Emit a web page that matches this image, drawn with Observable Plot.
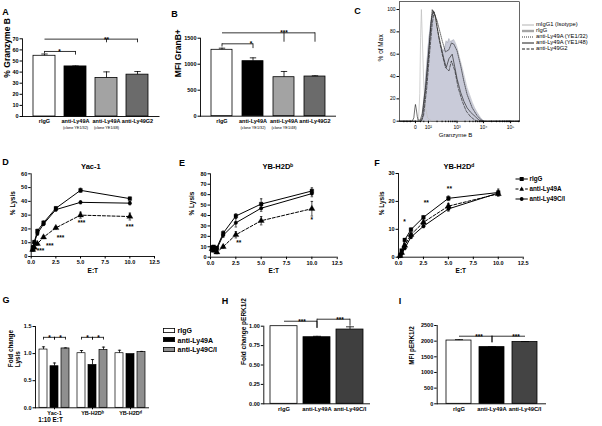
<!DOCTYPE html>
<html><head><meta charset="utf-8">
<script src="https://cdn.jsdelivr.net/npm/d3@7"></script>
<script src="https://cdn.jsdelivr.net/npm/@observablehq/plot@0.6"></script>
<style>
html,body{margin:0;padding:0;background:#fff;}
#fig{position:relative;width:602px;height:426px;overflow:hidden;background:#fff;font-family:'Liberation Sans',Arial,Helvetica,sans-serif;color:#000;}
.t{position:absolute;white-space:nowrap;line-height:1;}
</style></head><body><div id="fig"></div>
<script>
// ================= DATA =================
const ET = [0.15625, 0.3125, 0.625, 1.25, 2.5, 5, 10];

// A: % Granzyme B
const aCategories = ["rIgG", "anti-Ly49A (clone YE1/32)", "anti-Ly49A (clone YE1/48)", "anti-Ly49G2"];
const aTickNames = ["rIgG", "anti-Ly49A", "anti-Ly49A", "anti-Ly49G2"];
const aCloneNotes = ["", "(clone YE1/32)", "(clone YE1/48)", ""];
const aMeans = [54.7, 45.1, 34.7, 37.7];
const aErrors = [1.6, 0.4, 5.5, 2.8];
const aTicks = [0, 10, 20, 30, 40, 50, 60, 70];
const aBrackets = [
  {from: 0, to: 1, level: 58.6, drops: [[0, 56.8], [1, 55.3]], label: "*", labelAt: 0},
  {from: 0, to: 3, level: 69.7, drops: [[2, 66.4], [3, 66.4]], label: "**", labelAt: 2}
];

// B: MFI GranB+
const bMeans = [1277, 1058, 750, 763];
const bErrors = [31, 64, 110, 14];
const bTicks = [0, 500, 1000, 1500];
const bBrackets = [
  {from: 0, to: 1, level: 1392, drops: [[0, 1330], [1, 1300]], label: "*", labelAt: 1},
  {from: 0, to: 3, level: 1603, drops: [[2, 1423], [3, 1423]], label: "***", labelAt: 2}
];

// C: histogram (x = display position in decades of the logicle axis, y = % of max)
const cAxisPos = [0, 0.48, 1.54, 2.52, 3.52];
const cAxisLabels = ["0", "10²", "10³", "10⁴", "10⁵"];
const cIsoU = [-0.59, 0.08, 0.12, 0.16, 0.19, 0.22, 0.26, 0.31, 0.37, 0.45, 0.6, 3.85];
const cIsoPct = [0, 0, 4, 25, 75, 100, 70, 32, 12, 3, 0, 0];
const cRIgGU = [0.22, 0.25, 0.31, 0.37, 0.43, 0.49, 0.56, 0.64, 0.72, 0.80, 0.87, 0.93, 1.00, 1.05, 1.10, 1.14, 1.19, 1.24, 1.30, 1.36, 1.42, 1.48, 1.54, 1.63, 1.73, 1.82, 1.91, 2.00, 2.10, 2.19, 2.28, 2.36, 2.41, 2.49, 2.56];
const cRIgGPct = [0, 1, 18, 36, 54, 72, 87, 97, 90, 82, 74, 68, 64, 63, 67, 72, 70, 74, 71, 72, 73, 70, 66, 57, 48, 39, 30, 24, 17, 12, 8, 5, 3, 1, 0];
const cYE132U = [-0.59, 0.2, 0.27, 0.40, 0.49, 0.57, 0.62, 0.70, 0.80, 0.99, 1.11, 1.24, 1.33, 1.42, 1.54, 1.67, 1.79, 1.91, 2.10, 2.28, 2.44, 2.52, 3.85];
const cYE132Pct = [0, 0, 5, 33, 60, 87, 100, 96, 90, 72, 62, 64, 70, 69, 63, 50, 36, 24, 12, 5, 1, 0, 0];
const cYE148U = [-0.59, -0.12, -0.06, -0.02, 0.0, 0.03, 0.07, 0.10, 0.18, 0.25, 0.37, 0.49, 0.59, 0.65, 0.72, 0.80, 0.93, 1.05, 1.14, 1.24, 1.36, 1.46, 1.54, 1.67, 1.79, 1.91, 2.04, 2.22, 2.35, 2.47, 3.85];
const cYE148Pct = [0, 0, 3, 12, 15, 11, 4, 1, 1, 7, 30, 63, 90, 99, 95, 84, 69, 56, 48, 56, 60, 48, 38, 26, 18, 12, 8, 4, 1, 0, 0];
const cG2U = [-0.59, 0.22, 0.30, 0.42, 0.52, 0.62, 0.69, 0.76, 0.86, 0.99, 1.11, 1.24, 1.33, 1.46, 1.58, 1.73, 1.88, 2.04, 2.20, 2.30, 3.85];
const cG2Pct = [0, 0, 5, 30, 60, 87, 98, 92, 75, 60, 48, 45, 54, 45, 30, 18, 9, 4, 1, 0, 0];
const cLegend = ["mIgG1 (Isotype)", "rIgG", "anti-Ly49A (YE1/32)", "anti-Ly49A (YE1/48)", "anti-Ly49G2"];

// D/E/F: % lysis vs E:T
const lineSeries = ["rIgG", "anti-Ly49A", "anti-Ly49C/I"];
const dRIgG = [5, 10.5, 18.5, 24.5, 35, 48, 42];
const dRIgGErr = [0.8, 1, 1.2, 1.2, 1, 1.5, 1];
const dLy49A = [5, 6.5, 9.2, 14, 20.8, 30, 29];
const dLy49AErr = [0.8, 0.8, 1, 1, 1, 2.2, 2.5];
const dLy49CI = [7, 10, 16.5, 23.5, 34, 39.3, 38.7];
const dLy49CIErr = [0.8, 1, 1, 1, 1, 1, 1.2];
const dStarX = [0.94, 1.88, 2.97, 5.1, 9.98];
const dStarY = [4.8, 8.5, 14.7, 25.5, 22.4];
const dStarText = ["***", "***", "***", "***", "***"];

const eRIgG = [9.5, 10, 9, 23, 39.5, 51, 63.5];
const eRIgGErr = [1, 1, 1, 2, 2, 5, 3];
const eLy49A = [8, 6.5, 4.8, 10, 21.5, 35, 46.5];
const eLy49AErr = [1, 1.5, 1.5, 1.5, 3, 4, 7];
const eLy49CI = [8.5, 9, 8, 21, 33, 47, 61];
const eLy49CIErr = [1, 1, 1, 2, 4, 3, 3];
const eStarX = [2.79, 10.0];
const eStarY = [15.4, 36.9];
const eStarText = ["**", "*"];

const fRIgG = [0.6, 2.4, 6.2, 9.9, 14.3, 21.1, 23.2];
const fRIgGErr = [0.3, 0.3, 0.5, 0.5, 0.5, 0.8, 1.2];
const fLy49A = [0.5, 1.6, 4.2, 8.1, 12.5, 18.3, 22.7];
const fLy49AErr = [0.3, 0.3, 0.5, 0.5, 0.8, 1, 0.8];
const fLy49CI = [0.4, 1.2, 3.2, 7.2, 11.1, 17.3, 23.0];
const fLy49CIErr = [0.3, 0.3, 0.5, 0.5, 0.5, 0.8, 0.8];
const fStarX = [0.6, 2.78, 5.1];
const fStarY = [13.2, 20.1, 25];
const fStarText = ["*", "**", "**"];

// G: fold change lysis at 1:10
const gGroups = ["Yac-1", "YB-H2Dᵇ", "YB-H2Dᵈ"];
const gSeries = ["rIgG", "anti-Ly49A", "anti-Ly49C/I"];
const gRIgG = [1.075, 1.007, 1.007];
const gRIgGErr = [0.05, 0.05, 0.055];
const gLy49A = [0.767, 0.79, 0.99];
const gLy49AErr = [0.06, 0.1, 0];
const gLy49CI = [1.095, 1.065, 1.03];
const gLy49CIErr = [0.01, 0.055, 0.01];
const gBrackets = [
  {group: 0, from: 0, to: 1, level: 1.30, drop: 1.25, label: "*"},
  {group: 0, from: 1, to: 2, level: 1.30, drop: 1.25, label: "*"},
  {group: 1, from: 0, to: 1, level: 1.30, drop: 1.25, label: "*"},
  {group: 1, from: 1, to: 2, level: 1.30, drop: 1.25, label: "*"}
];

// H: fold change pERK1/2
const hCategories = ["rIgG", "anti-Ly49A", "anti-Ly49C/I"];
const hMeans = [1.0, 0.858, 0.957];
const hErrors = [0, 0.012, 0.035];
const hTicks = [0, 0.25, 0.5, 0.75, 1.0];
const hBrackets = [
  {from: 0, to: 1, level: 1.064, drops: [[1, 0.97]], label: "***", labelAt: 1},
  {from: 1, to: 2, level: 1.09, drops: [[1, 0.975], [2, 1.0]], label: "***", labelAt: 2}
];

// I: MFI pERK1/2
const iMeans = [2020, 1810, 1975];
const iErrors = [30, 10, 12];
const iTicks = [0, 500, 1000, 1500, 2000, 2500];
const iBrackets = [
  {from: 0, to: 1, level: 2158, drops: [[1, 1948]], label: "***", labelAt: 1},
  {from: 1, to: 2, level: 2158, drops: [[1, 1948]], label: "***", labelAt: 2}
];

// ================= DRAWING =================
const fig = document.getElementById("fig");
const FONT = "'Liberation Sans',Arial,Helvetica,sans-serif";
const BASE = `font-family:${FONT};font-weight:bold;font-size:6px;background:transparent;overflow:visible;`;
const cap = {draw(ctx, size) { const w = Math.sqrt(size) / 2; ctx.moveTo(-w, 0); ctx.lineTo(w, 0); }};

function dims(box, f) {
  return {width: box.w, height: box.h,
    marginLeft: f.x0 - box.l, marginRight: box.l + box.w - f.x1,
    marginTop: f.y0 - box.t, marginBottom: box.t + box.h - f.y1, style: BASE};
}
function put(node, box) {
  node.style.position = "absolute"; node.style.left = box.l + "px"; node.style.top = box.t + "px";
  fig.appendChild(node);
}
function label(text, x, y, size, weight, center) {
  const d = document.createElement("div");
  d.className = "t"; d.textContent = text;
  d.style.left = x + "px"; d.style.top = y + "px"; d.style.fontSize = size + "px"; d.style.fontWeight = weight;
  d.style.transform = center ? "translate(-50%,-50%)" : "translateY(-50%)";
  fig.appendChild(d);
}
function svgAt(x, y, w, h, inner) {
  fig.insertAdjacentHTML("beforeend", `<svg style="position:absolute;left:${x}px;top:${y}px;overflow:visible" width="${w}" height="${h}">${inner}</svg>`);
}

function barPanel(o) {
  const rows = o.cats.map((c, i) => ({cat: c, mean: o.means[i], err: o.errors[i], fill: o.fills[i], note: o.notes ? o.notes[i] : ""}));
  const withErr = rows.filter(d => d.err > 0);
  const segs = o.brackets.map(b => ({x1: o.cats[b.from], x2: o.cats[b.to], y: b.level}));
  const drops = o.brackets.flatMap(b => b.drops.map(([i, y]) => ({x: o.cats[i], y1: y, y2: b.level})));
  const marks = [
    Plot.barY(rows, {x: "cat", y: "mean", fill: "fill", stroke: "black", strokeWidth: 0.8}),
    Plot.ruleX(withErr, {x: "cat", y1: "mean", y2: d => d.mean + d.err, strokeWidth: 0.8}),
    Plot.dot(withErr, {x: "cat", y: d => d.mean + d.err, symbol: cap, r: o.capR, fill: "none", stroke: "black", strokeWidth: 0.8}),
    Plot.ruleY([0], {strokeWidth: 0.9}),
    Plot.frame({anchor: "left", strokeWidth: 0.9}),
    Plot.axisY({ticks: o.ticks, tickFormat: o.tickFormat, tickSize: 2.5, tickPadding: 1.5, fontSize: o.tickFont, label: null}),
    Plot.axisX({tickSize: 0, tickPadding: o.catPad, tickFormat: c => o.names[o.cats.indexOf(c)], fontSize: o.catFont, label: null}),
    Plot.text([o.yLabel], {frameAnchor: "left", rotate: -90, dx: o.yLabelDx, fontSize: o.yLabelFont, text: d => d}),
    Plot.link(segs, {x1: "x1", x2: "x2", y1: "y", y2: "y", strokeWidth: 0.8}),
    Plot.ruleX(drops, {x: "x", y1: "y1", y2: "y2", strokeWidth: 0.8}),
    ...o.brackets.map((b, k) => Plot.text([b], {x: () => o.cats[b.labelAt], y: "level", text: "label", dx: o.starDx[k], dy: 0.5, fontSize: 6.5}))
  ];
  if (o.notes) marks.push(Plot.text(rows, {x: "cat", text: "note", frameAnchor: "bottom", dy: 12.5, fontSize: 3.8, fontWeight: "normal"}));
  put(Plot.plot({...dims(o.box, o.frame),
    x: {domain: o.cats, padding: o.padding},
    y: {domain: o.yDomain},
    color: {type: "identity"},
    marks}), o.box);
}

function linePanel(o) {
  const marks = [Plot.ruleY([0], {strokeWidth: 0.9}), Plot.ruleX([0], {strokeWidth: 0.9})];
  o.series.forEach(s => {
    const rows = ET.map((x, i) => ({x, v: s.values[i], e: s.errors[i]}));
    marks.push(
      Plot.ruleX(rows, {x: "x", y1: d => Math.max(0, d.v - d.e), y2: d => d.v + d.e, strokeWidth: 0.7}),
      Plot.dot(rows, {x: "x", y: d => d.v + d.e, symbol: cap, r: 1.4, fill: "none", stroke: "black", strokeWidth: 0.7}),
      Plot.dot(rows, {x: "x", y: d => Math.max(0, d.v - d.e), symbol: cap, r: 1.4, fill: "none", stroke: "black", strokeWidth: 0.7}),
      Plot.line(rows, {x: "x", y: "v", stroke: "black", strokeWidth: 1, strokeDasharray: s.dash}),
      Plot.dot(rows, {x: "x", y: "v", symbol: s.symbol, r: s.r, fill: "black", stroke: "black", strokeWidth: 0.3})
    );
  });
  const stars = o.starX.map((x, i) => ({x, y: o.starY[i], t: o.starText[i]}));
  marks.push(
    Plot.text(stars, {x: "x", y: "y", text: "t", fontSize: 6.5, dy: 1.5}),
    Plot.axisY({ticks: o.yTicks, tickSize: 2.5, tickPadding: 1.5, fontSize: 5.5, label: null}),
    Plot.axisX({ticks: [0, 2.5, 5, 7.5, 10, 12.5], tickFormat: d3.format(".1f"), tickSize: 2.5, tickPadding: 1.5, fontSize: 5.5, label: null}),
    Plot.text(["% Lysis"], {frameAnchor: "left", rotate: -90, dx: o.yLabelDx, fontSize: 6.5, text: d => d}),
    Plot.text(["E:T"], {frameAnchor: "bottom", dy: 16, fontSize: 6.5, text: d => d}),
    Plot.text([o.title], {frameAnchor: "top", dy: -10, dx: o.titleDx, fontSize: 7.5, text: d => d})
  );
  put(Plot.plot({...dims(o.box, o.frame), x: {domain: [0, 12.5]}, y: {domain: [0, o.yMax]}, marks}), o.box);
}

const barFills4 = ["white", "black", "#a3a3a3", "#6b6b6b"];

// ---- A ----
barPanel({box: {l: 0, t: 0, w: 170, h: 140}, frame: {x0: 22, x1: 159.5, y0: 38.3, y1: 116},
  cats: aCategories, names: aTickNames, notes: aCloneNotes, means: aMeans, errors: aErrors, fills: barFills4,
  yDomain: [0, 70], ticks: aTicks, tickFormat: d3.format("d"), padding: 0.3, capR: 3.6,
  tickFont: 5.5, catFont: 5.5, catPad: 3, yLabel: "% Granzyme B", yLabelDx: -15, yLabelFont: 8.5,
  brackets: aBrackets, starDx: [15, 0]});

// ---- B ----
barPanel({box: {l: 170, t: 0, w: 185, h: 140}, frame: {x0: 200, x1: 336, y0: 37.7, y1: 115.7},
  cats: aCategories, names: aTickNames, notes: aCloneNotes, means: bMeans, errors: bErrors, fills: barFills4,
  yDomain: [0, 1500], ticks: bTicks, tickFormat: d3.format("d"), padding: 0.33, capR: 3.6,
  tickFont: 5.5, catFont: 5.5, catPad: 3, yLabel: "MFI GranB+", yLabelDx: -22, yLabelFont: 8.5,
  brackets: bBrackets, starDx: [-2, 0]});

// ---- C ----
{
  const box = {l: 355, t: 0, w: 247, h: 140}, f = {x0: 399, x1: 519, y0: 1.2, y1: 120.7};
  const rowsOf = (U, P) => U.map((u, i) => ({u, p: P[i]}));
  const minor = [-0.43, -0.31, -0.19, 0.19, 0.31];
  for (let k = 1; k < 4; k++) for (let m = 2; m < 10; m++) minor.push(cAxisPos[k] + Math.log10(m) * (cAxisPos[k + 1] - cAxisPos[k]));
  minor.push(cAxisPos[4] + Math.log10(2));
  put(Plot.plot({...dims(box, f),
    x: {domain: [-0.59, 3.85]},
    y: {domain: [0, 107]},
    marks: [
      Plot.areaY(rowsOf(cRIgGU, cRIgGPct), {x: "u", y: "p", fill: "#c9cbd9"}),
      Plot.line(rowsOf(cRIgGU, cRIgGPct), {x: "u", y: "p", stroke: "#a5a6b0", strokeWidth: 0.5}),
      Plot.line(rowsOf(cIsoU, cIsoPct), {x: "u", y: "p", stroke: "#bdbdbd", strokeWidth: 0.7}),
      Plot.line(rowsOf(cYE132U, cYE132Pct), {x: "u", y: "p", stroke: "#111", strokeWidth: 0.6, strokeDasharray: "1,1"}),
      Plot.line(rowsOf(cYE148U, cYE148Pct), {x: "u", y: "p", stroke: "#111", strokeWidth: 0.6}),
      Plot.line(rowsOf(cG2U, cG2Pct), {x: "u", y: "p", stroke: "#111", strokeWidth: 0.6, strokeDasharray: "3,1.5"}),
      Plot.frame({strokeWidth: 0.6}),
      Plot.axisY({ticks: [0, 20, 40, 60, 80, 100], tickSize: 2.5, tickPadding: 1.5, fontSize: 5, fontWeight: "normal", label: null}),
      Plot.axisX({ticks: cAxisPos, tickFormat: u => cAxisLabels[cAxisPos.indexOf(u)], tickSize: 2.5, tickPadding: 1.5, fontSize: 5, fontWeight: "normal", label: null}),
      Plot.axisX({ticks: minor, tickFormat: () => "", tickSize: 1.5, label: null}),
      Plot.text(["% of Max"], {frameAnchor: "left", rotate: -90, dx: -19, fontSize: 6.5, fontWeight: "normal", text: d => d}),
      Plot.text(["Granzyme B"], {frameAnchor: "bottom", dy: 15.5, dx: -4, fontSize: 6, fontWeight: "normal", text: d => d})
    ]}), box);
  const styles = [
    `<line x1="0" x2="12" y1="3" y2="3" stroke="#c4c4c4" stroke-width="1.3"/>`,
    `<line x1="0" x2="12" y1="3" y2="3" stroke="#a5a5a5" stroke-width="2.4"/>`,
    `<line x1="0" x2="12" y1="3" y2="3" stroke="black" stroke-width="0.8" stroke-dasharray="1,1"/>`,
    `<line x1="0" x2="12" y1="3" y2="3" stroke="black" stroke-width="0.9"/>`,
    `<line x1="0" x2="12" y1="3" y2="3" stroke="black" stroke-width="0.9" stroke-dasharray="3,1.5"/>`
  ];
  cLegend.forEach((t, i) => {
    const y = 25 + i * 6.1;
    svgAt(522, y - 3, 12, 6, styles[i]);
    label(t, 536, y, 5.8, "normal", false);
  });
}

// ---- D, E, F ----
const sym = {rIgG: {symbol: "square", r: 2.1}, "anti-Ly49A": {symbol: "triangle", r: 2.3, dash: "3,1.8"}, "anti-Ly49C/I": {symbol: "circle", r: 1.8}};
function mk(vals, errs) { return lineSeries.map((n, i) => ({name: n, values: vals[i], errors: errs[i], ...sym[n]})); }

linePanel({box: {l: 0, t: 140, w: 180, h: 145}, frame: {x0: 30.7, x1: 154, y0: 173.3, y1: 256},
  yMax: 60, yTicks: [0, 10, 20, 30, 40, 50, 60], title: "Yac-1", titleDx: -2, yLabelDx: -18.5,
  series: mk([dRIgG, dLy49A, dLy49CI], [dRIgGErr, dLy49AErr, dLy49CIErr]), starX: dStarX, starY: dStarY, starText: dStarText});
linePanel({box: {l: 180, t: 140, w: 192, h: 145}, frame: {x0: 210, x1: 336.7, y0: 173.3, y1: 256.7},
  yMax: 80, yTicks: [0, 10, 20, 30, 40, 50, 60, 70, 80], title: "YB-H2Dᵇ", titleDx: 4, yLabelDx: -19,
  series: mk([eRIgG, eLy49A, eLy49CI], [eRIgGErr, eLy49AErr, eLy49CIErr]), starX: eStarX, starY: eStarY, starText: eStarText});
linePanel({box: {l: 372, t: 140, w: 230, h: 145}, frame: {x0: 398, x1: 522.7, y0: 173, y1: 256.7},
  yMax: 30, yTicks: [0, 10, 20, 30], title: "YB-H2Dᵈ", titleDx: -2, yLabelDx: -17,
  series: mk([fRIgG, fLy49A, fLy49CI], [fRIgGErr, fLy49AErr, fLy49CIErr]), starX: fStarX, starY: fStarY, starText: fStarText});
// F legend
lineSeries.forEach((n, i) => {
  const y = 179 + i * 10;
  const s = sym[n];
  const marker = s.symbol === "square" ? `<rect x="4.7" y="1" width="4" height="4" fill="black"/>`
    : s.symbol === "triangle" ? `<path d="M6.7,0.6 L9,4.8 L4.4,4.8 Z" fill="black"/>`
    : `<circle cx="6.7" cy="3" r="1.9" fill="black"/>`;
  svgAt(515, y - 3, 14, 6, `<line x1="0.5" x2="12.8" y1="3" y2="3" stroke="black" stroke-width="1" ${s.dash ? `stroke-dasharray="${s.dash}"` : ""}/>${marker}`);
  label(n, 529.5, y, 6.3, "bold", false);
});

// ---- G ----
{
  const box = {l: 0, t: 285, w: 215, h: 141}, f = {x0: 35, x1: 149, y0: 326, y1: 407.3};
  const vals = [gRIgG, gLy49A, gLy49CI], errs = [gRIgGErr, gLy49AErr, gLy49CIErr];
  const fills = ["white", "black", "#8f8f8f"];
  const rows = gGroups.flatMap((g, gi) => gSeries.map((s, si) => ({group: g, series: s, mean: vals[si][gi], err: errs[si][gi], fill: fills[si]})));
  const withErr = rows.filter(d => d.err > 0);
  const segs = gBrackets.map(b => ({group: gGroups[b.group], x1: gSeries[b.from], x2: gSeries[b.to], y: b.level, t: b.label}));
  const drops = gBrackets.flatMap(b => [b.from, b.to].map(s => ({group: gGroups[b.group], x: gSeries[s], y1: b.drop, y2: b.level})));
  put(Plot.plot({...dims(box, f),
    fx: {domain: gGroups, padding: 0},
    x: {domain: gSeries, padding: 0.3, axis: null},
    y: {domain: [0, 1.5]},
    color: {type: "identity"},
    marks: [
      Plot.barY(rows, {fx: "group", x: "series", y: "mean", fill: "fill", stroke: "black", strokeWidth: 0.7}),
      Plot.ruleX(withErr, {fx: "group", x: "series", y1: "mean", y2: d => d.mean + d.err, strokeWidth: 0.8}),
      Plot.dot(withErr, {fx: "group", x: "series", y: d => d.mean + d.err, symbol: cap, r: 1.8, fill: "none", stroke: "black", strokeWidth: 0.8}),
      Plot.ruleY([0], {strokeWidth: 0.9}),
      Plot.frame({anchor: "left", facetAnchor: "left", strokeWidth: 0.9}),
      Plot.axisY({ticks: [0, 0.5, 1, 1.5], tickFormat: d3.format(".1f"), tickSize: 2.5, tickPadding: 1.5, fontSize: 5.5, label: null, facetAnchor: "left"}),
      Plot.axisFx({anchor: "bottom", tickSize: 2, tickPadding: 1.5, fontSize: 5.5, label: null}),
      Plot.link(segs, {fx: "group", x1: "x1", x2: "x2", y1: "y", y2: "y", strokeWidth: 0.8}),
      Plot.ruleX(drops, {fx: "group", x: "x", y1: "y1", y2: "y2", strokeWidth: 0.8}),
      Plot.text(segs, {fx: "group", x: "x1", y: "y", text: "t", dx: 6, dy: 0.5, fontSize: 6.5}),
      Plot.text(["Fold change\nLysis"], {frameAnchor: "left", rotate: -90, dx: -21, fontSize: 6.3, facetAnchor: "left", text: d => d}),
      Plot.text(["1:10 E:T"], {frameAnchor: "bottom", dy: 13.7, dx: -4, fontSize: 6.3, facetAnchor: "left", text: d => d})
    ]}), box);
  gSeries.forEach((n, i) => {
    const y = 330 + i * 9.5;
    svgAt(163, y - 2.5, 12, 5, `<rect x="0.4" y="0.4" width="11.2" height="4.2" fill="${fills[i]}" stroke="black" stroke-width="0.8"/>`);
    label(n, 177.5, y, 7, "bold", false);
  });
}

// ---- H ----
barPanel({box: {l: 215, t: 285, w: 180, h: 141}, frame: {x0: 263.3, x1: 370, y0: 325.7, y1: 403.3},
  cats: hCategories, names: hCategories, means: hMeans, errors: hErrors, fills: ["white", "black", "#3f3f3f"],
  yDomain: [0, 1], ticks: hTicks, tickFormat: d3.format(".2f"), padding: 0.18, capR: 4.5,
  tickFont: 5.5, catFont: 5.8, catPad: 3.5, yLabel: "Fold change pERK1/2", yLabelDx: -19.5, yLabelFont: 6.5,
  brackets: hBrackets, starDx: [-15, -10]});

// ---- I ----
barPanel({box: {l: 395, t: 285, w: 207, h: 141}, frame: {x0: 436.7, x1: 546, y0: 325, y1: 403.3},
  cats: hCategories, names: hCategories, means: iMeans, errors: iErrors, fills: ["white", "black", "#444444"],
  yDomain: [0, 2500], ticks: iTicks, tickFormat: d3.format("d"), padding: 0.24, capR: 4.5,
  tickFont: 5.5, catFont: 5.8, catPad: 3.5, yLabel: "MFI pERK1/2", yLabelDx: -25, yLabelFont: 6.3,
  brackets: iBrackets, starDx: [-13, -9]});

// ---- panel letters ----
[["A", 5.5, 12], ["B", 174.5, 14], ["C", 357.5, 11], ["D", 5.5, 162], ["E", 182, 163], ["F", 377, 163],
 ["G", 6, 300], ["H", 225, 301], ["I", 400, 301]].forEach(([t, x, y]) => label(t, x, y, 9, "bold", true));
</script></body></html>
